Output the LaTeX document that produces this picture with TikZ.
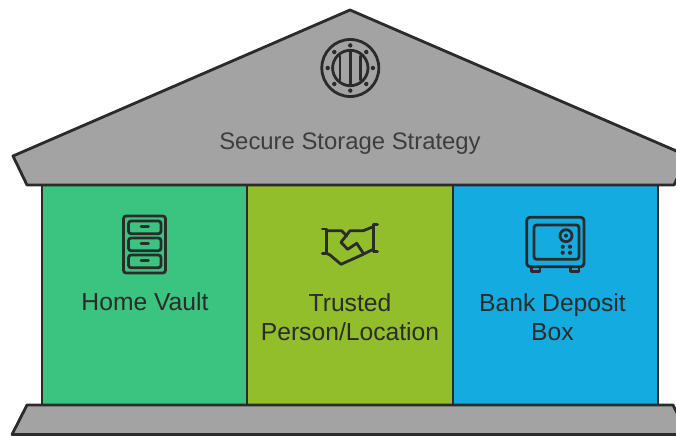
\documentclass[tikz,border=0pt]{standalone}
\usepackage{fontspec}
\setmainfont{Liberation Sans}
\definecolor{ink}{HTML}{2B2B2B}
\definecolor{stone}{HTML}{A3A3A3}
\definecolor{cgreen}{HTML}{3AC47F}
\definecolor{colive}{HTML}{92BE2B}
\definecolor{cblue}{HTML}{14ABE0}
\tikzset{
  shell/.style={draw=ink,line width=2.1pt,line join=round,fill=stone},
  col/.style={draw=ink,line width=2.1pt},
  icon/.style={draw=ink,line width=2.1pt,line join=round,line cap=round},
  dotf/.style={fill=ink,draw=none},
  lab/.style={text=ink,align=center,font=\fontsize{18.5pt}{21.75pt}\selectfont,inner sep=0pt}
}
\begin{document}
\begin{tikzpicture}[x=0.75pt,y=-0.75pt]
\useasboundingbox (0,0) rectangle (676,436);
\clip (0,0) rectangle (676,436);
\fill[white] (0,0) rectangle (676,436);
% columns
\draw[col,fill=cgreen] (42,185) rectangle (247,405);
\draw[col,fill=colive] (247,185) rectangle (453,405);
\draw[col,fill=cblue] (453,185) rectangle (658,405);
% roof and base
\draw[shell] (350,10) -- (688,156) -- (674,185) -- (27,185) -- (13,156) -- cycle;
\draw[shell] (27,405) -- (673,405) -- (688,434.5) -- (12,434.5) -- cycle;
% vault icon
\draw[icon] (350.3,68) circle (28.5);
\draw[icon] (350.3,68) circle (17.7);
\draw[icon] (350.3,52) -- (350.3,84) (340,56) -- (340,80) (360.3,56) -- (360.3,80);
\foreach \a in {0,45,...,315}
  \fill[dotf] (350.3,68) ++(\a:22.6) circle (2.2);
% cabinet icon
\draw[icon,rounded corners=2pt] (123.5,216) rectangle (165.5,273);
\foreach \y in {221,238,255}{
  \draw[icon,rounded corners=2pt] (128.5,\y) rectangle (161,\y+12.8);
  \draw[icon] (141,\y+5.2) -- (148.5,\y+5.2);
}
% handshake icon
\draw[icon] (322.3,229) -- (326.7,229) -- (326.7,253.3) -- (322.3,253.3);
\draw[icon] (377.5,224.3) -- (373.3,224.3) -- (373.3,251.7) -- (377.5,251.7);
\draw[icon] (326.7,230.7) -- (341.7,230.7) -- (346.7,236);
\draw[icon] (373.3,226.7) -- (363.3,230.7) -- (350,230.7) -- (341,242.3) -- (347.7,249.3) -- (356.7,243.3) -- (363.3,253.3);
\draw[icon] (326.7,253.3) -- (330,255) -- (341,264.3) -- (361.7,255) -- (373.3,249.3);
% safe icon
\draw[icon,rounded corners=2.5pt] (526.7,217.3) rectangle (584,266.7);
\draw[icon,rounded corners=2pt] (534,225) rectangle (579,259.3);
\draw[icon] (566,235.7) circle (6);
\fill[dotf] (566,235.7) circle (2);
\foreach \x in {562.7,570}\foreach \y in {246.7,252.7}
  \fill[dotf] (\x,\y) circle (2.1);
\draw[icon] (531.7,267) -- (531.7,271.7) -- (540,271.7) -- (540,267);
\draw[icon] (570.7,267) -- (570.7,271.7) -- (579,271.7) -- (579,267);
% labels
\node[lab,text=ink!85!stone,font=\fontsize{17.9pt}{21.75pt}\selectfont] (roof) at (350,144) {Secure Storage Strategy};
\node[lab] (home) at (145,302) {Home Vault};
\node[lab] (trust) at (350,317.5) {Trusted\\Person/Location};
\node[lab] (bank) at (552.5,317.5) {Bank Deposit\\Box};
\end{tikzpicture}
\end{document}
